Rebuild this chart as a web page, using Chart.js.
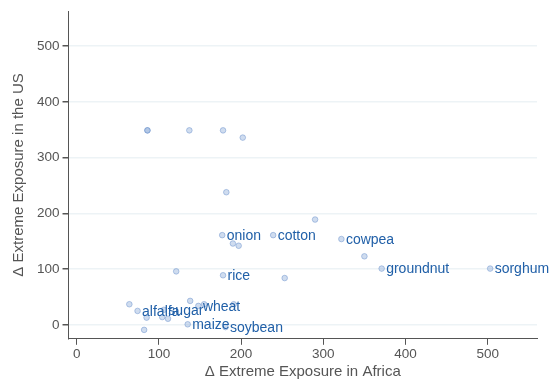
<!DOCTYPE html>
<html>
<head>
<meta charset="utf-8">
<script src="https://cdn.jsdelivr.net/npm/chart.js@4.4.1/dist/chart.umd.min.js"></script>
<style>
  html, body { margin: 0; padding: 0; background: #fff; }
  #wrap { width: 556px; height: 379px; }
</style>
</head>
<body>
<div id="wrap"><canvas id="scatter-canvas"></canvas></div>
<script>
// crops with a label
let cropNames = ["alfalfa", "sugar", "wheat", "maize", "soybean", "rice", "onion", "cotton", "cowpea", "groundnut", "sorghum"];
let cropAfrica = [74, 106, 148, 135, 181, 178, 177, 239, 322, 371, 503];
let cropUS = [25, 27, 34, 1, -4, 89, 161, 161, 154, 101, 101];

// unlabelled points
let otherAfrica = [86, 86, 137, 178, 202, 182, 190, 197, 121, 253, 290, 350, 64, 85, 82, 104, 111, 138, 155, 191];
let otherUS = [349, 349, 349, 349, 336, 238, 146, 142, 96, 84, 189, 123, 37, 13, -9, 14, 11, 43, 37, 37];

let tickValues = [0, 100, 200, 300, 400, 500];

let points = [];
for (let i = 0; i < otherAfrica.length; i++) {
  points.push({ x: otherAfrica[i], y: otherUS[i] });
}
let labelled = [];
for (let i = 0; i < cropNames.length; i++) {
  labelled.push({ x: cropAfrica[i], y: cropUS[i], name: cropNames[i] });
}

let fontFamily = "'Liberation Sans', Arial, Helvetica, sans-serif";
let grey = "#555555";

// writes crop names to the right of their points
let cropLabels = {
  id: "cropLabels",
  afterDatasetsDraw(chart) {
    let c = chart.ctx;
    let meta = chart.getDatasetMeta(1);
    c.save();
    c.font = "14px " + fontFamily;
    c.fillStyle = "#2160a8";
    c.textBaseline = "middle";
    c.textAlign = "left";
    meta.data.forEach(function (el, i) {
      c.fillText(labelled[i].name, el.x + 4.5, el.y + 1);
    });
    c.restore();
  },
};

function fixedTicks(scale) {
  scale.ticks = tickValues.map(function (v) { return { value: v }; });
}

let pointStyle = {
  pointRadius: 2.8,
  pointHoverRadius: 2.8,
  pointBorderWidth: 1,
  backgroundColor: "rgba(140,172,218,0.42)",
  borderColor: "rgba(110,148,205,0.5)",
};

let ctx = document.querySelector("#scatter-canvas");
let chart = new Chart(ctx, {
  type: "scatter",
  data: {
    datasets: [
      Object.assign({ label: "other", data: points }, pointStyle),
      Object.assign({ label: "crops", data: labelled }, pointStyle),
    ],
  },
  options: {
    responsive: true,
    maintainAspectRatio: false,
    animation: false,
    layout: {
      padding: { top: -3, right: 19, left: 10, bottom: 0 },
    },
    plugins: {
      legend: { display: false },
      tooltip: { enabled: false },
    },
    scales: {
      x: {
        type: "linear",
        min: -10,
        max: 560,
        afterBuildTicks: fixedTicks,
        border: { color: grey, width: 1 },
        grid: {
          drawOnChartArea: false,
          tickLength: 6,
          tickColor: grey,
        },
        ticks: {
          color: grey,
          padding: 1,
          font: { family: fontFamily, size: 13.5 },
        },
        title: {
          display: true,
          text: "Δ Extreme Exposure in Africa",
          color: grey,
          padding: { top: 1, bottom: 0 },
          font: { family: fontFamily, size: 15, lineHeight: 1.0 },
        },
      },
      y: {
        type: "linear",
        min: -25,
        max: 563,
        afterBuildTicks: fixedTicks,
        border: { color: grey, width: 1 },
        grid: {
          color: "#edf3f6",
          lineWidth: 1.5,
          tickLength: 6,
          tickColor: grey,
        },
        ticks: {
          color: grey,
          padding: 3,
          font: { family: fontFamily, size: 13.5 },
        },
        title: {
          display: true,
          text: "Δ Extreme Exposure in the US",
          color: grey,
          padding: { top: 0, bottom: 6 },
          font: { family: fontFamily, size: 15 },
        },
      },
    },
  },
  plugins: [cropLabels],
});
</script>
</body>
</html>
